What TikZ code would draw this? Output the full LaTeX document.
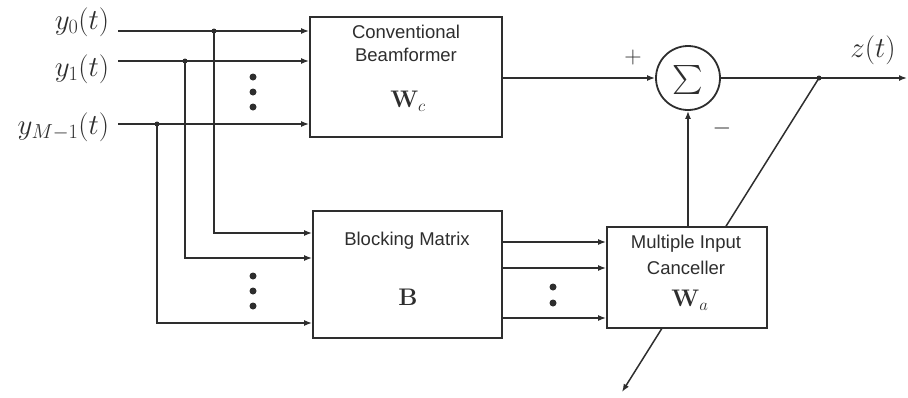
\documentclass[tikz,border=0pt]{standalone}
\usepackage{fix-cm}
\usepackage[no-math]{fontspec}
\setmainfont{Liberation Sans}
\usetikzlibrary{arrows.meta,backgrounds,calc}
\definecolor{ink}{rgb}{0.18,0.18,0.18}
\begin{document}
\begin{tikzpicture}[x=1pt,y=-1pt,
  line width=1.5pt, draw=ink,
  conn/.style={draw=ink, line width=1.5pt},
  arr/.style={conn, -{Latex[length=8pt,width=6pt]}},
  blk/.style={draw=ink, fill=white, line width=1.8pt, inner sep=0pt},
  btxt/.style={text=ink, font=\fontsize{18.5}{20}\selectfont, inner sep=0pt},
  mtxt/.style={text=ink, font=\fontsize{29}{32}\selectfont, inner sep=0pt},
  stxt/.style={text=ink, font=\fontsize{24}{28}\selectfont, inner sep=0pt},
  wtxt/.style={text=ink, font=\fontsize{24}{26}\selectfont, inner sep=0pt},
  jdot/.style={circle, fill=ink, inner sep=0pt, minimum size=5pt},
  vdot/.style={circle, fill=ink, inner sep=0pt, minimum size=7pt}]
\useasboundingbox (0,0) rectangle (908,397);
% blocks
\node[blk, minimum width=192pt, minimum height=120pt] (CB) at (406,77) {};
\node[blk, minimum width=189pt, minimum height=127pt] (BM) at (407.5,274.5) {};
\node[blk, minimum width=160pt, minimum height=101pt] (MIC) at (687,277.5) {};
\node[circle, draw=ink, line width=1.8pt, minimum size=64pt, inner sep=0pt] (S) at (688,78) {};
\node[text=ink, inner sep=0pt] (sig) at (688,80) {\scalebox{2.9}{$\sum$}};
% block texts
\node[btxt] (cb1) at (406,32) {Conventional};
\node[btxt] (cb2) at (406,55) {Beamformer};
\node[wtxt] (cbw) at (408,101) {$\mathbf{W}_c$};
\node[btxt] (bm1) at (407,241) {Blocking Matrix};
\node[wtxt] (bmb) at (408,297) {$\mathbf{B}$};
\node[btxt] (mi1) at (686,244) {Multiple Input};
\node[btxt] (mi2) at (686,268) {Canceller};
\node[wtxt] (miw) at (690,300) {$\mathbf{W}_a$};
% input labels
\node[mtxt, anchor=east] (l0) at (110,22) {$y_0(t)$};
\node[mtxt, anchor=east] (l1) at (110,69) {$y_1(t)$};
\node[mtxt, anchor=east] (l2) at (110,127) {$y_{M-1}(t)$};
% input start points and junctions
\coordinate (in0) at (118,31);
\coordinate (in1) at (118,61);
\coordinate (in2) at (118,124);
\node[jdot] (j0) at (214,31) {};
\node[jdot] (j1) at (185,61) {};
\node[jdot] (j2) at (157,124) {};
% inputs to CB
\draw[arr] (in0) -- (in0 -| CB.west);
\draw[arr] (in1) -- (in1 -| CB.west);
\draw[arr] (in2) -- (in2 -| CB.west);
% inputs to BM
\coordinate (b0) at (214,233);
\coordinate (b1) at (185,258);
\coordinate (b2) at (157,323);
\draw[arr] (j0.center) -- (b0) -- (b0 -| BM.west);
\draw[arr] (j1.center) -- (b1) -- (b1 -| BM.west);
\draw[arr] (j2.center) -- (b2) -- (b2 -| BM.west);
% vertical dots
\node[vdot] (d1) at (253,77) {};
\node[vdot] (d2) at (253,92) {};
\node[vdot] (d3) at (253,107) {};
\node[vdot] (d4) at (253,276) {};
\node[vdot] (d5) at (253,291) {};
\node[vdot] (d6) at (253,306) {};
% BM outputs to MIC
\coordinate (o0) at (502,242);
\coordinate (o1) at (502,268);
\coordinate (o2) at (502,318);
\draw[arr] (o0) -- (o0 -| MIC.west);
\draw[arr] (o1) -- (o1 -| MIC.west);
\draw[arr] (o2) -- (o2 -| MIC.west);
\node[vdot] (d7) at (553,287) {};
\node[vdot] (d8) at (553,303) {};
% CB to sum
\draw[arr] (CB.east |- S) -- (S.west);
\node[stxt] (plus) at (633,57) {$+$};
% MIC to sum
\draw[arr] (S |- MIC.north) -- (S.south);
\node[stxt] (minus) at (722,128) {$-$};
% output
\node[jdot] (jz) at (819,78) {};
\coordinate (zend) at (907,78);
\draw[arr] (S.east) -- (zend);
\node[mtxt] (zl) at (873,50) {$z(t)$};
% adaptation line through MIC
\coordinate (tip) at (622,392);
\begin{scope}[on background layer]
\draw[arr] (jz.center) -- (tip);
\end{scope}
\end{tikzpicture}
\end{document}
